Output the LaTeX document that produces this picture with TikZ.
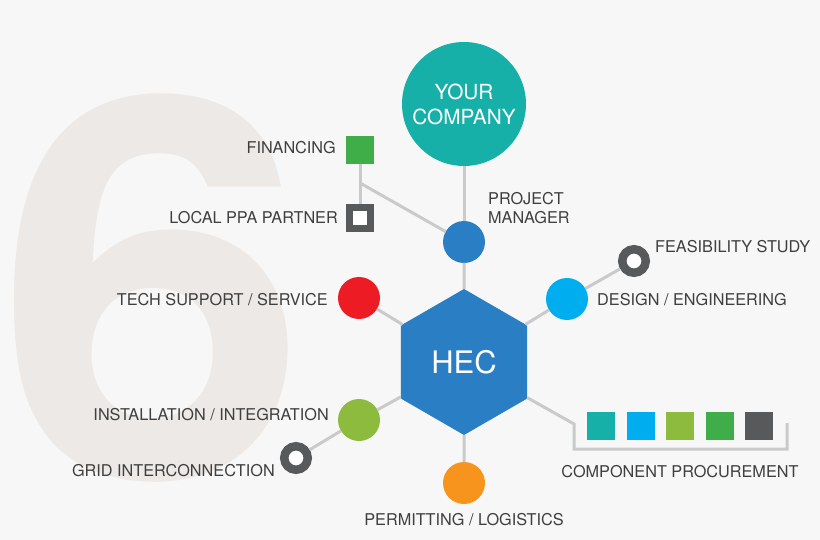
\documentclass[tikz,border=0pt]{standalone}
\usepackage{fontspec}
\setmainfont{TeX Gyre Heros}
\usetikzlibrary{positioning,shapes.geometric}
\definecolor{bgcol}{HTML}{F7F7F7}
\definecolor{sixcol}{HTML}{ECE9E6}
\definecolor{linecol}{HTML}{C9CACB}
\definecolor{txtcol}{HTML}{3F3F40}
\definecolor{tealcol}{HTML}{17B0A8}
\definecolor{hexcol}{HTML}{2A7FC4}
\definecolor{skycol}{HTML}{00AEEF}
\definecolor{redcol}{HTML}{ED1C24}
\definecolor{limecol}{HTML}{8DBB3E}
\definecolor{orangecol}{HTML}{F7941E}
\definecolor{greencol}{HTML}{3FAE49}
\definecolor{darkcol}{HTML}{58595B}

\begin{document}
\begin{tikzpicture}[x=1pt,y=-1pt,
dot/.style={circle,minimum size=42pt,inner sep=0pt,outer sep=0pt},
ring/.style={circle,draw=darkcol,line width=8.5pt,fill=white,minimum size=23.5pt,inner sep=0pt},
swatch/.style={rectangle,minimum size=28pt,inner sep=0pt,outer sep=0pt},
lab/.style={text=txtcol,inner sep=0pt,font=\fontsize{16.25}{20}\selectfont,text height=11.6pt,text depth=0pt},
conn/.style={draw=linecol,line width=3pt}]
\useasboundingbox (0,0) rectangle (820,540);
\fill[bgcol] (0,0) rectangle (820,540);
\node (six) [inner sep=0pt,text=sixcol,xscale=1.06,font=\bfseries\fontsize{530}{530}\selectfont] at (153,288) {6};

\node (company) [circle,fill=tealcol,minimum size=124pt,inner sep=0pt,outer sep=0pt,text=white,align=center,
    font=\fontsize{20.8}{25}\selectfont] at (464,104) {YOUR\\COMPANY};
\node (hec) [regular polygon,regular polygon sides=6,shape border rotate=30,fill=hexcol,minimum size=146pt,
    inner sep=0pt,outer sep=0pt,text=white,font=\fontsize{31}{31}\selectfont] at (464,362) {HEC};
\node (manager) [dot,fill=hexcol] at (464,242) {};
\node (tech) [dot,fill=redcol] at (359,298) {};
\node (design) [dot,fill=skycol] at (567,299) {};
\node (install) [dot,fill=limecol] at (359,420) {};
\node (permit) [dot,fill=orangecol] at (464,483) {};
\node (feas) [ring] at (634,261) {};
\node (grid) [ring] at (296,458) {};
\node (fin) [swatch,fill=greencol] at (360,150) {};
\node (ppa) [rectangle,draw=darkcol,line width=7pt,fill=white,minimum size=21pt,inner sep=0pt] at (360,218) {};

% component swatches
\node (comp1) [swatch,fill=tealcol] at (601,426) {};
\node (comp2) [swatch,fill=skycol,right=11.5pt of comp1] {};
\node (comp3) [swatch,fill=limecol,right=11.5pt of comp2] {};
\node (comp4) [swatch,fill=greencol,right=11.5pt of comp3] {};
\node (comp5) [swatch,fill=darkcol,right=11.5pt of comp4] {};

% labels
\node (finlab) [lab,left=10pt of fin,yshift=2pt] {FINANCING};
\node (ppalab) [lab,left=8pt of ppa] {LOCAL PPA PARTNER};
\node (techlab) [lab,left=10pt of tech,yshift=-2pt] {TECH SUPPORT / SERVICE};
\node (installlab) [lab,left=9pt of install,yshift=5pt] {INSTALLATION / INTEGRATION};
\node (gridlab) [lab,left=5pt of grid,yshift=-13pt] {GRID INTERCONNECTION};
\node (designlab) [lab,right=9pt of design,yshift=-1pt] {DESIGN / ENGINEERING};
\node (feaslab) [lab,anchor=west] at (655,247) {FEASIBILITY STUDY};
\node (mgrlab) [text=txtcol,inner sep=0pt,align=left,anchor=west,font=\fontsize{16.25}{19.5}\selectfont] at (488,208) {PROJECT\\MANAGER};
\node (complab) [lab] at (680,472) {COMPONENT PROCUREMENT};
\node (permitlab) [lab,below=10pt of permit] {PERMITTING / LOGISTICS};

% connectors
\coordinate (branch) at (360,183);
\coordinate (bendA) at (574,424);
\coordinate (bendB) at (574,449);
\coordinate (bendC) at (787,449);
\coordinate (bendD) at (787,423);
\draw[conn] (company) -- (manager);
\draw[conn] (manager) -- (hec);
\draw[conn] (fin) -- (ppa);
\draw[conn] (branch) -- (manager);
\draw[conn] (hec) -- (tech);
\draw[conn] (hec) -- (design);
\draw[conn] (hec) -- (install);
\draw[conn] (hec) -- (permit);
\draw[conn] (design) -- (feas);
\draw[conn] (install) -- (grid);
\draw[conn] (hec) -- (bendA) -- (bendB) -- (bendC) -- (bendD);
\end{tikzpicture}
\end{document}
